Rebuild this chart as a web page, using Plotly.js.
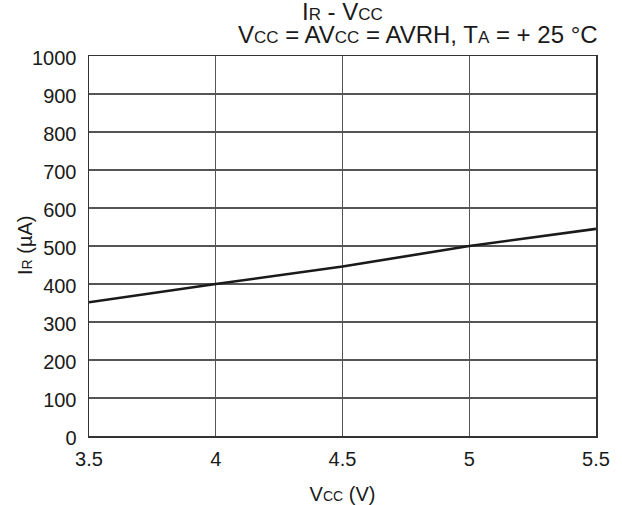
<!DOCTYPE html>
<html>
<head>
<meta charset="utf-8">
<script src="https://cdn.plot.ly/plotly-3.0.1.min.js"></script>
<style>html,body{margin:0;padding:0;background:#fff;}#chart{width:622px;height:505px;}</style>
</head>
<body>
<div id="chart"></div>
<script>
const vcc = [3.5, 4, 4.5, 5, 5.5];
const ir = [352, 400, 446, 500, 545];
const xTicks = [3.5, 4, 4.5, 5, 5.5];
const xTickLabels = ['3.5', '4', '4.5', '5', '5.5'];
const yTicks = [0, 100, 200, 300, 400, 500, 600, 700, 800, 900, 1000];

const S = (t, s) => '<span style="font-size:' + s + 'px">' + t + '</span>';
const fam = '"Liberation Sans", Arial, sans-serif';
const font = {family: fam, size: 20, color: '#1a1a1a'};
const tfont = {family: fam, size: 24, color: '#1a1a1a'};

const trace = {
  x: vcc, y: ir, type: 'scatter', mode: 'lines',
  line: {color: '#1a1a1a', width: 2.6},
  hoverinfo: 'skip', showlegend: false
};

const layout = {
  width: 622, height: 505,
  margin: {l: 89, r: 26, t: 56, b: 69},
  paper_bgcolor: '#fff', plot_bgcolor: '#fff',
  font: font,
  xaxis: {
    range: [3.5, 5.5], tickvals: xTicks, ticktext: xTickLabels,
    showgrid: true, gridcolor: '#555', gridwidth: 1.3,
    showline: true, linecolor: '#333', linewidth: 1.5, mirror: true,
    zeroline: false, ticks: '', ticklen: 0, ticklabelstandoff: 4,
    tickfont: font,
    title: {text: 'V' + S('CC', 14) + ' (V)', font: font, standoff: 18}
  },
  yaxis: {
    range: [0, 1000], tickvals: yTicks,
    showgrid: true, gridcolor: '#555', gridwidth: 1.3,
    showline: true, linecolor: '#333', linewidth: 1.5, mirror: true,
    zeroline: false, ticks: '', ticklen: 0, ticklabelstandoff: 7, ticklabelshift: 2,
    tickfont: font
  },
  annotations: [
    {xref: 'paper', yref: 'paper', x: 0, y: 0.5, xanchor: 'center', yanchor: 'middle', xshift: -64,
     textangle: -90, showarrow: false, text: 'I' + S('R', 14) + ' (µA)', font: font},
    {xref: 'paper', yref: 'paper', x: 0.5, y: 1, xanchor: 'center', yanchor: 'bottom', yshift: 29,
     showarrow: false, text: 'I' + S('R', 17) + ' - V' + S('CC', 17), font: tfont},
    {xref: 'paper', yref: 'paper', x: 1.008, y: 1, xanchor: 'right', yanchor: 'bottom', yshift: 6,
     showarrow: false, text: 'V' + S('CC', 17) + ' = AV' + S('CC', 17) + ' = AVRH, T' + S('A', 17) + ' = + 25 °C', font: tfont}
  ]
};

Plotly.newPlot('chart', [trace], layout, {staticPlot: true, displayModeBar: false});
</script>
</body>
</html>
